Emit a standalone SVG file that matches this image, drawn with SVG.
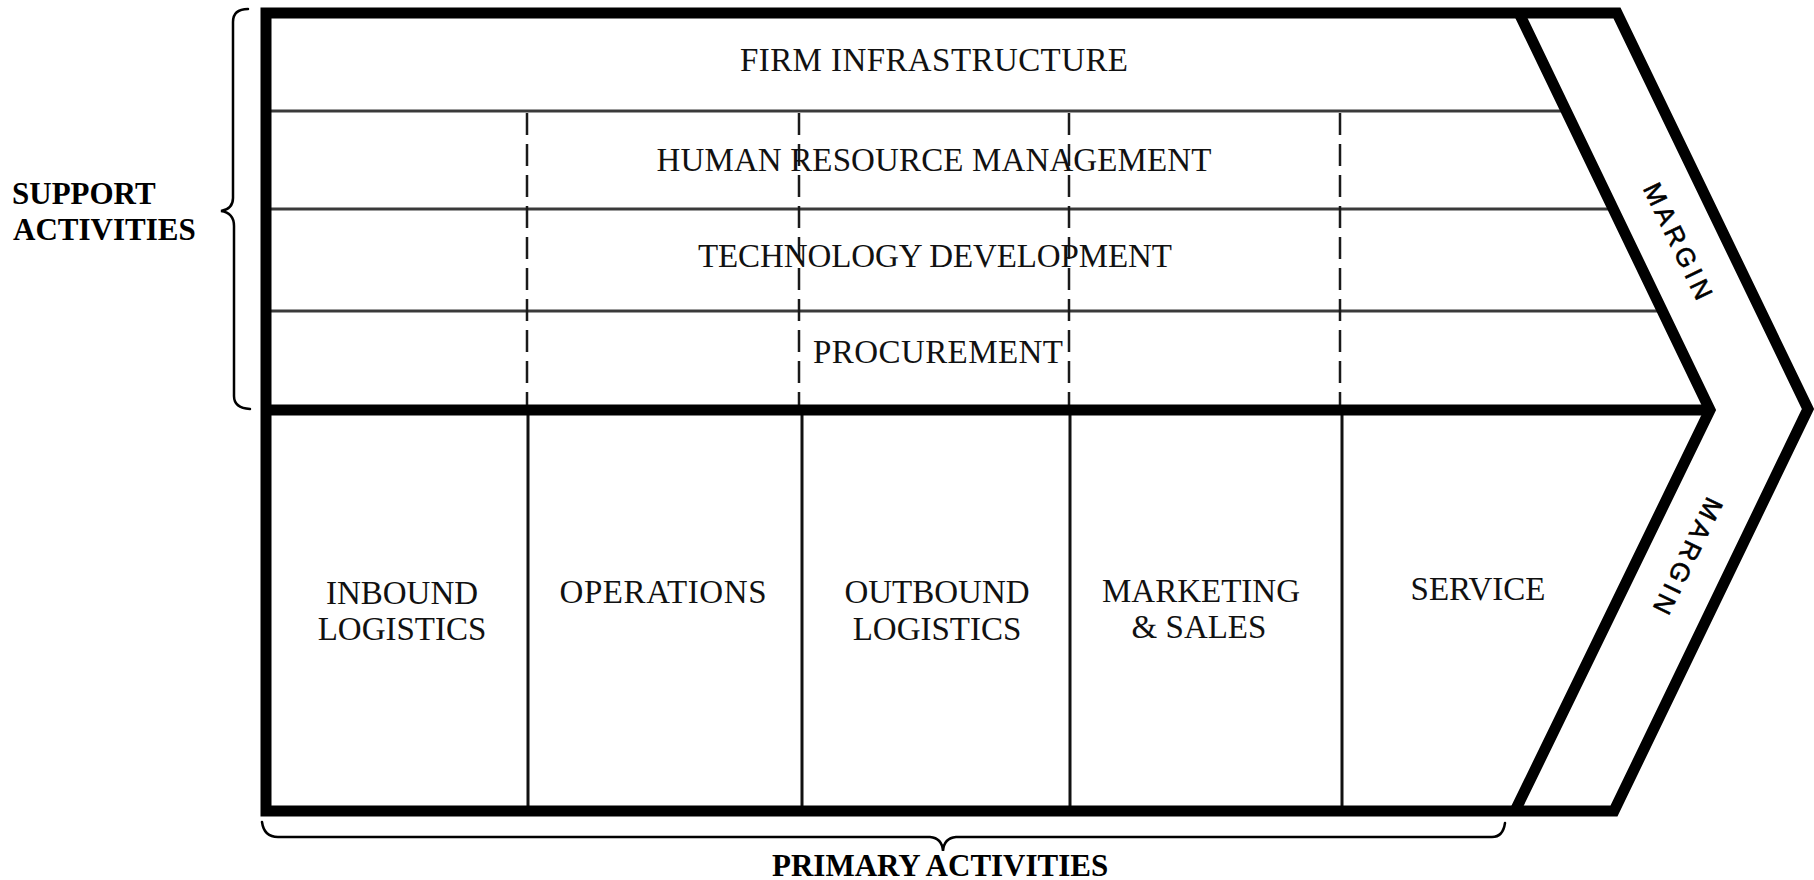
<svg xmlns="http://www.w3.org/2000/svg" width="1814" height="880" viewBox="0 0 1814 880">
  <style>
    .thick { fill: none; stroke: #000; stroke-width: 11; stroke-linejoin: miter; stroke-miterlimit: 10; }
    .thin { fill: none; stroke: #3a3a3a; stroke-width: 3; }
    .dash { fill: none; stroke: #1a1a1a; stroke-width: 2.5; stroke-dasharray: 22 9; }
    .solid { fill: none; stroke: #111; stroke-width: 3; }
    .brace { fill: none; stroke: #000; stroke-width: 2.5; stroke-linecap: round; }
    .lbl { font-family: "Liberation Serif", "Times New Roman", serif; font-size: 33px; fill: #111; text-anchor: middle; }
    .bold { font-family: "Liberation Serif", "Times New Roman", serif; font-size: 31px; font-weight: bold; fill: #000; }
    .margin { font-family: "Liberation Sans", Arial, sans-serif; font-size: 26px; fill: #000; stroke: #000; stroke-width: 0.6; text-anchor: middle; dominant-baseline: central; }
  </style>
  <rect width="1814" height="880" fill="#fff"/>

  <g id="frame">
    <line class="thin" x1="266" y1="111" x2="1570" y2="111"/>
    <line class="thin" x1="266" y1="209" x2="1616" y2="209"/>
    <line class="thin" x1="266" y1="311" x2="1665" y2="311"/>
    <line class="dash" x1="527" y1="113" x2="527" y2="407"/>
    <line class="dash" x1="799" y1="113" x2="799" y2="407"/>
    <line class="dash" x1="1069" y1="113" x2="1069" y2="407"/>
    <line class="dash" x1="1340" y1="113" x2="1340" y2="407"/>
    <line class="solid" x1="528" y1="410" x2="528" y2="808"/>
    <line class="solid" x1="802" y1="410" x2="802" y2="808"/>
    <line class="solid" x1="1070" y1="410" x2="1070" y2="808"/>
    <line class="solid" x1="1342" y1="410" x2="1342" y2="808"/>
    <line class="thick" x1="266" y1="410" x2="1706" y2="410" stroke-width="10"/>
    <polygon class="thick" points="266,13 1617,13 1808,409 1614,811 266,811"/>
    <polyline class="thick" points="1519,13 1710,410 1515,811" stroke-width="10"/>
  </g>

  <g id="connectors">
    <path id="support-brace" class="brace" d="M 248,9 Q 233,9 233,22 L 233,198 Q 233,209 221,211 Q 234,213 234,226 L 234,396 Q 234,408 250,409"/>
    <path id="primary-brace" class="brace" d="M 262,822 Q 264,837 278,837 L 930,837 Q 942,838 943,851 Q 944,838 956,837 L 1492,837 Q 1503,837 1505,823"/>
  </g>

  <g id="firm-infrastructure"><text class="lbl" x="934" y="71" textLength="388" lengthAdjust="spacing">FIRM INFRASTRUCTURE</text></g>
  <g id="human-resource-management"><text class="lbl" x="934" y="171" textLength="555" lengthAdjust="spacing">HUMAN RESOURCE MANAGEMENT</text></g>
  <g id="technology-development"><text class="lbl" x="935" y="267" textLength="474" lengthAdjust="spacing">TECHNOLOGY DEVELOPMENT</text></g>
  <g id="procurement"><text class="lbl" x="938" y="363" textLength="250" lengthAdjust="spacing">PROCUREMENT</text></g>

  <g id="inbound-logistics">
    <text class="lbl" x="402" y="604">INBOUND</text>
    <text class="lbl" x="402" y="640">LOGISTICS</text>
  </g>
  <g id="operations"><text class="lbl" x="663" y="603" textLength="207" lengthAdjust="spacing">OPERATIONS</text></g>
  <g id="outbound-logistics">
    <text class="lbl" x="937" y="603">OUTBOUND</text>
    <text class="lbl" x="937" y="640">LOGISTICS</text>
  </g>
  <g id="marketing-sales">
    <text class="lbl" x="1201" y="602">MARKETING</text>
    <text class="lbl" x="1199" y="638">&amp; SALES</text>
  </g>
  <g id="service"><text class="lbl" x="1478" y="600">SERVICE</text></g>

  <g id="margin-top"><text class="margin" transform="translate(1678,241) rotate(64.3)" textLength="126" lengthAdjust="spacing">MARGIN</text></g>
  <g id="margin-bottom"><text class="margin" transform="translate(1688,556) rotate(115.9)" textLength="126" lengthAdjust="spacing">MARGIN</text></g>

  <g id="support-activities">
    <text class="bold" x="12" y="204">SUPPORT</text>
    <text class="bold" x="13" y="240">ACTIVITIES</text>
  </g>
  <g id="primary-activities"><text class="bold" x="772" y="876">PRIMARY ACTIVITIES</text></g>
</svg>
